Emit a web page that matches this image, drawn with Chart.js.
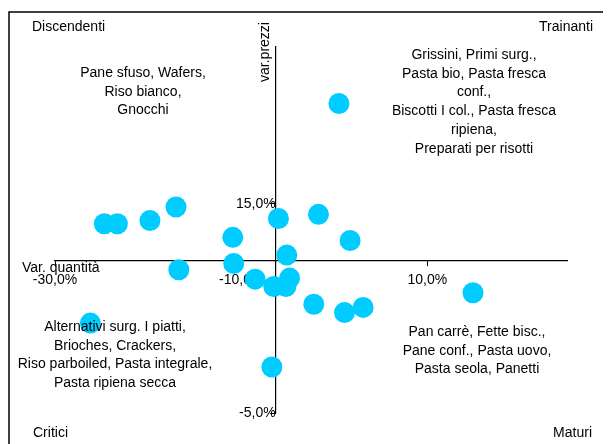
<!DOCTYPE html>
<html>
<head>
<meta charset="utf-8">
<script src="https://cdn.jsdelivr.net/npm/chart.js@4/dist/chart.umd.min.js"></script>
<style>
  body { margin: 0; background: #fff; }
  #wrap { width: 608px; height: 444px; }
</style>
</head>
<body>
<div id="wrap"><canvas id="Chart" width="608" height="444"></canvas></div>
<script>
// variazione quantità (x) e variazione prezzi (y), in %
const varQuantita = [0.5, -24.7, -23.3, -19.8, -17.0, -6.0, -1.7, -10.9, 1.7, -5.1, -10.8,
  -16.7, -8.5, -4.8, -5.2, -6.5, -2.2, 1.1, 3.1, 14.9, -26.2, -6.7];
const varPrezzi = [24.6, 13.1, 13.1, 13.4, 14.7, 13.6, 14.0, 11.8, 11.5, 10.1, 9.3,
  8.7, 7.8, 7.9, 7.1, 7.1, 5.4, 4.6, 5.1, 6.5, 3.6, -0.6];

const xTicks = [-30, -10, 10];
const yTicks = [-5, 15];
const xMin = -30, xMax = 25;
const yMin = -5, yMax = 30;
// where the two axes cross
const crossX = -6.3;
const crossY = 9.55;

const quadrantNames = ['Discendenti', 'Trainanti', 'Critici', 'Maturi'];
const groupTopLeft = ['Pane sfuso, Wafers,', 'Riso bianco,', 'Gnocchi'];
const groupTopRight = ['Grissini, Primi surg.,', 'Pasta bio, Pasta fresca', 'conf.,',
  'Biscotti I col., Pasta fresca', 'ripiena,', 'Preparati per risotti'];
const groupBottomLeft = ['Alternativi surg. I piatti,', 'Brioches, Crackers,',
  'Riso parboiled, Pasta integrale,', 'Pasta ripiena secca'];
const groupBottomRight = ['Pan carrè, Fette bisc.,', 'Pane conf., Pasta uovo,', 'Pasta seola, Panetti'];

const FONT = 'Liberation Sans, Arial, sans-serif';

function pct(v) {
  return v.toFixed(1).replace('.', ',') + '%';
}

const points = varQuantita.map((x, i) => ({ x: x, y: varPrezzi[i] }));

// frame and texts written on the picture
const labelsPlugin = {
  id: 'labels',
  afterDraw(chart) {
    const c = chart.ctx;
    c.save();
    c.strokeStyle = '#000';
    c.lineWidth = 1.5;
    c.beginPath();
    c.moveTo(9, 444);
    c.lineTo(9, 12);
    c.lineTo(603, 12);
    c.stroke();

    c.fillStyle = '#000';
    c.font = '14px ' + FONT;
    c.textBaseline = 'middle';

    c.textAlign = 'left';
    c.fillText(quadrantNames[0], 32, 27);
    c.fillText(quadrantNames[2], 33, 433);
    c.fillText('Var. quantità', 22, 268);
    c.textAlign = 'right';
    c.fillText(quadrantNames[1], 593, 27);
    c.fillText(quadrantNames[3], 592, 433);

    function block(lines, cx, y0) {
      c.textAlign = 'center';
      lines.forEach((t, i) => c.fillText(t, cx, y0 + i * 18.8));
    }
    block(groupTopLeft, 143, 73);
    block(groupTopRight, 474, 55);
    block(groupBottomLeft, 115, 327);
    block(groupBottomRight, 477, 332);

    c.translate(265, 52);
    c.rotate(-Math.PI / 2);
    c.textAlign = 'center';
    c.fillText('var.prezzi', 0, 0);
    c.restore();
  }
};

const ctx = document.getElementById('Chart');

new Chart(ctx, {
  type: 'scatter',
  data: {
    datasets: [{
      data: points,
      backgroundColor: '#00CCFF',
      borderWidth: 0,
      pointRadius: 10.5,
      pointHoverRadius: 10.5
    }]
  },
  options: {
    responsive: false,
    animation: false,
    layout: { padding: { left: 55, right: 41, top: 47, bottom: 31 } },
    plugins: {
      legend: { display: false },
      tooltip: { enabled: false }
    },
    scales: {
      x: {
        type: 'linear',
        min: xMin,
        max: xMax,
        position: { y: crossY },
        afterBuildTicks: s => { s.ticks = xTicks.map(v => ({ value: v })); },
        grid: { drawOnChartArea: false, tickLength: 5, color: '#000' },
        border: { color: '#000', width: 1.2 },
        ticks: {
          autoSkip: false, maxRotation: 0, padding: 6, color: '#000',
          font: { family: FONT, size: 14 },
          callback: v => pct(v)
        }
      },
      y: {
        type: 'linear',
        min: yMin,
        max: yMax,
        position: { x: crossX },
        afterBuildTicks: s => { s.ticks = yTicks.map(v => ({ value: v })); },
        grid: { drawOnChartArea: false, tickLength: 5, color: '#000' },
        border: { color: '#000', width: 1.2 },
        ticks: {
          autoSkip: false, padding: 6, color: '#000',
          font: { family: FONT, size: 14 },
          callback: v => pct(v)
        }
      }
    }
  },
  plugins: [labelsPlugin]
});
</script>
</body>
</html>
